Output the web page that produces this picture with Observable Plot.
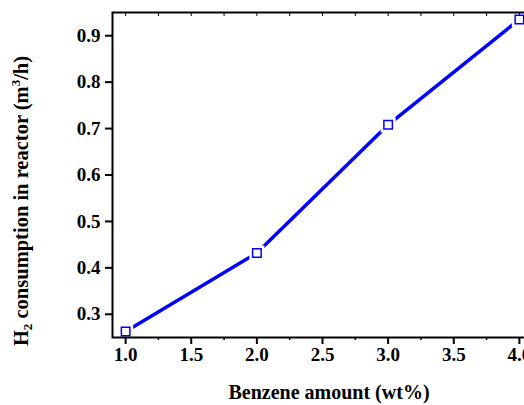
<!DOCTYPE html>
<html>
<head>
<meta charset="utf-8">
<script src="https://cdn.jsdelivr.net/npm/d3@7"></script>
<script src="https://cdn.jsdelivr.net/npm/@observablehq/plot@0.6"></script>
<style>
  html, body { margin: 0; padding: 0; background: #fff; overflow: hidden; }
  #chart { width: 524px; height: 405px; overflow: hidden; }
  #chart svg { max-width: none !important; display: block; }
  #chart svg text { font-family: "Liberation Serif", "Times New Roman", serif !important; font-weight: bold; }
</style>
</head>
<body>
<div id="chart"></div>
<script>
const benzene = [1.0, 2.0, 3.0, 4.0];
const h2 = [0.263, 0.432, 0.708, 0.935];
const xTicks = [1.0, 1.5, 2.0, 2.5, 3.0, 3.5, 4.0];
const xMinorTicks = [1.25, 1.75, 2.25, 2.75, 3.25, 3.75];
const xTopTicks = [1.0, 1.25, 1.5, 1.75, 2.0, 2.25, 2.5, 2.75, 3.0, 3.25, 3.5, 3.75, 4.0];
const yTicks = [0.3, 0.4, 0.5, 0.6, 0.7, 0.8, 0.9];

const data = benzene.map((x, i) => ({x, y: h2[i]}));
const blue = "#0000ff";
const fmt = d3.format(".1f");
const serif = "'Liberation Serif', 'Times New Roman', serif";

const plot = Plot.plot({
  width: 540,
  height: 405,
  marginLeft: 112,
  marginTop: 12,
  marginBottom: 68,
  marginRight: 8,
  style: {fontFamily: serif, fontWeight: "bold", fontSize: "19px", color: "#000", background: "#fff", maxWidth: "none"},
  x: {domain: [0.9, 4.1]},
  y: {domain: [0.25, 0.95]},
  marks: [
    Plot.line(data, {x: "x", y: "y", stroke: blue, strokeWidth: 3.5}),
    Plot.dot(data, {x: "x", y: "y", symbol: "square", r: 8.5, fill: "#fff", stroke: "none"}),
    Plot.dot(data, {x: "x", y: "y", symbol: "square", r: 4.8, fill: "#fff", stroke: blue, strokeWidth: 1.5}),
    Plot.frame({stroke: "#000", strokeWidth: 2}),
    Plot.axisY({ticks: yTicks, tickFormat: fmt, tickSize: 7, tickPadding: 5, strokeWidth: 2, label: null, fontSize: 19, fontFamily: serif, fontWeight: "bold"}),
    Plot.axisX({ticks: xTicks, tickFormat: fmt, tickSize: 7, tickPadding: 3, strokeWidth: 2, label: null, fontSize: 19, fontFamily: serif, fontWeight: "bold"}),
    Plot.axisX({ticks: xMinorTicks, tickSize: 3, strokeWidth: 1.5, text: null, label: null}),
    Plot.axisX({anchor: "top", ticks: xTopTicks, tickSize: -3, strokeWidth: 1, text: null, label: null})
  ]
});

const svg = d3.select(plot);
// Y axis title
const yl = svg.append("text")
  .attr("transform", "translate(28,201) rotate(-90)")
  .attr("text-anchor", "middle")
  .attr("font-family", serif)
  .attr("font-weight", "bold")
  .attr("font-size", 20.5)
  .attr("fill", "#000");
yl.append("tspan").text("H");
yl.append("tspan").attr("font-size", 13).attr("dy", 4).text("2");
yl.append("tspan").attr("dy", -4).text(" consumption in reactor (m");
yl.append("tspan").attr("font-size", 13).attr("dy", -8).text("3");
yl.append("tspan").attr("dy", 8).text("/h)");
// X axis title
svg.append("text")
  .attr("x", 329).attr("y", 399)
  .attr("text-anchor", "middle")
  .attr("font-family", serif)
  .attr("font-weight", "bold")
  .attr("font-size", 20)
  .attr("fill", "#000")
  .text("Benzene amount (wt%)");

document.getElementById("chart").appendChild(plot);
</script>
</body>
</html>
